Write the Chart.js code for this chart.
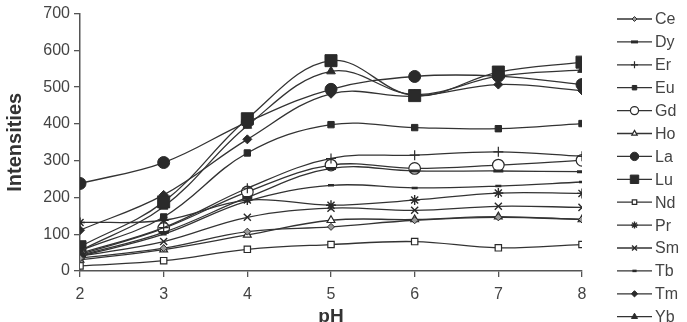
<!DOCTYPE html>
<html>
<head>
<meta charset="utf-8">
<script src="https://cdn.jsdelivr.net/npm/chart.js@4/dist/chart.umd.min.js"></script>
<style>
html,body{margin:0;padding:0;background:#fff;}
#wrap{width:687px;height:322px;position:relative;}
</style>
</head>
<body>
<div id="wrap"><canvas id="c" width="687" height="322"></canvas></div>
<script>
const pH = [2, 3, 4, 5, 6, 7, 8];
const yTicks = [0, 100, 200, 300, 400, 500, 600, 700];

const Ce = [35, 62, 107, 120, 138, 146, 140];
const Dy = [42, 105, 200, 279, 272, 272, 270];
const Er = [48, 118, 225, 306, 315, 324, 312];
const Eu = [55, 147, 321, 398, 390, 387, 401];
const Gd = [45, 116, 215, 288, 279, 288, 301];
const Ho = [30, 58, 98, 138, 140, 148, 140];
const La = [238, 295, 405, 494, 529, 530, 507];
const Lu = [66, 188, 414, 572, 477, 541, 568];
const Nd = [14, 28, 59, 72, 80, 63, 72];
const Pr = [132, 138, 193, 179, 193, 212, 211];
const Sm = [40, 80, 146, 171, 165, 176, 173];
const Tb = [40, 100, 190, 233, 226, 231, 242];
const Tm = [111, 207, 358, 482, 475, 507, 491];
const Yb = [55, 175, 395, 543, 480, 530, 547];

const seriesNames = ['Ce','Dy','Er','Eu','Gd','Ho','La','Lu','Nd','Pr','Sm','Tb','Tm','Yb'];
const seriesValues = [Ce, Dy, Er, Eu, Gd, Ho, La, Lu, Nd, Pr, Sm, Tb, Tm, Yb];

const DARK = '#2a2a2a';
const styles = {
  Ce: {ps:'rectRot', r:3.5, fill:'#9a9a9a', bw:1},
  Dy: {ps:'line', r:5, fill:DARK, bw:3},
  Er: {ps:'cross', r:5, fill:DARK, bw:1.2},
  Eu: {ps:'rect', r:4.5, fill:DARK, bw:1},
  Gd: {ps:'circle', r:5.8, fill:'#fff', bw:1.2},
  Ho: {ps:'triangle', r:4.5, fill:'#fff', bw:1.2},
  La: {ps:'circle', r:6, fill:DARK, bw:1},
  Lu: {ps:'rect', r:8.5, fill:DARK, bw:1},
  Nd: {ps:'rect', r:4.5, fill:'#fff', bw:1.2},
  Pr: {ps:'star', r:5, fill:DARK, bw:1.4},
  Sm: {ps:'crossRot', r:5, fill:DARK, bw:1.4},
  Tb: {ps:'line', r:3, fill:DARK, bw:2.5},
  Tm: {ps:'rectRot', r:4.5, fill:DARK, bw:1},
  Yb: {ps:'triangle', r:5, fill:DARK, bw:1}
};

const datasets = seriesNames.map((n, i) => ({
  label: n,
  data: pH.map((x, j) => ({x: x, y: seriesValues[i][j]})),
  borderColor: '#333',
  borderWidth: 1.3,
  tension: 0.38,
  pointStyle: styles[n].ps,
  pointRadius: styles[n].r,
  pointBackgroundColor: styles[n].fill,
  pointBorderColor: DARK,
  pointBorderWidth: styles[n].bw,
  fill: false
}));

const legendPlugin = {
  id: 'lineLegend',
  afterDraw(chart) {
    const ctx = chart.ctx;
    const ca = chart.chartArea;
    const x0 = ca.right + 35, x1 = x0 + 35, tx = x1 + 3;
    const y0 = 19, dy = 22.9;
    ctx.save();
    chart.data.datasets.forEach((ds, i) => {
      const y = y0 + i * dy;
      ctx.strokeStyle = '#333';
      ctx.lineWidth = 1.3;
      ctx.beginPath(); ctx.moveTo(x0, y); ctx.lineTo(x1, y); ctx.stroke();
      ctx.fillStyle = ds.pointBackgroundColor;
      ctx.strokeStyle = ds.pointBorderColor;
      ctx.lineWidth = ds.pointBorderWidth;
      Chart.helpers.drawPoint(ctx, {pointStyle: ds.pointStyle, radius: ds.pointRadius * 0.7, rotation: 0, borderWidth: ds.pointBorderWidth}, (x0 + x1) / 2, y);
      ctx.fillStyle = '#444';
      ctx.font = '16px "Liberation Sans", Arial, sans-serif';
      ctx.textAlign = 'left';
      ctx.textBaseline = 'middle';
      ctx.fillText(ds.label, tx, y + 1);
    });
    ctx.restore();
  }
};

new Chart(document.getElementById('c'), {
  type: 'line',
  data: {datasets: datasets},
  plugins: [legendPlugin],
  options: {
    responsive: false,
    animation: false,
    layout: {padding: {left: 0, right: 105, top: 13, bottom: 0}},
    plugins: {legend: {display: false}, tooltip: {enabled: false}},
    scales: {
      x: {
        type: 'linear', min: 2, max: 8,
        afterBuildTicks: s => { s.ticks = pH.map(v => ({value: v})); },
        grid: {drawOnChartArea: false, drawTicks: true, tickLength: 6, color: '#555', lineWidth: 1.3},
        border: {color: '#555', width: 1.5},
        ticks: {color: '#444', font: {family: '"Liberation Sans", Arial', size: 16}, padding: 8},
        title: {display: true, text: 'pH', color: '#333', font: {family: '"Liberation Sans", Arial', size: 19, weight: 'bold', lineHeight: 0.5}, padding: {top: 0, bottom: 0}},
        afterFit: s => { s.height = 51; }
      },
      y: {
        min: 0, max: 700,
        afterBuildTicks: s => { s.ticks = yTicks.map(v => ({value: v})); },
        grid: {drawOnChartArea: false, drawTicks: true, tickLength: 6, color: '#555', lineWidth: 1.3},
        border: {color: '#555', width: 1.5},
        ticks: {color: '#444', font: {family: '"Liberation Sans", Arial', size: 16}, padding: 4},
        title: {display: true, text: 'Intensities', color: '#333', font: {family: '"Liberation Sans", Arial', size: 20, weight: 'bold'}, padding: {top: 3, bottom: 4}},
        afterFit: s => { s.width = 80; }
      }
    }
  }
});
</script>
</body>
</html>
